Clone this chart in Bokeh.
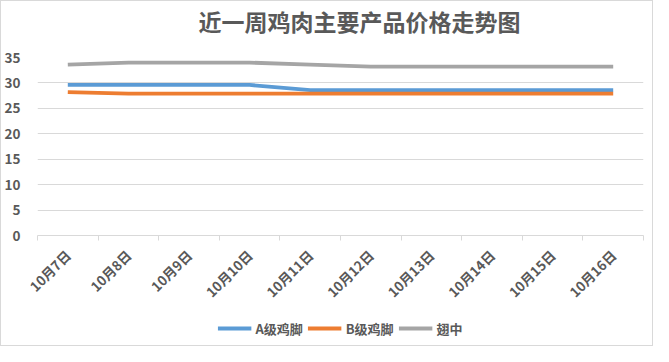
import numpy as np
from bokeh.plotting import figure
from bokeh.layouts import column
from bokeh.models import (Range1d, FixedTicker, Legend, LegendItem, Label,
                          CustomJSTickFormatter)
from bokeh.embed import file_html
from bokeh.resources import INLINE

title_text = "近一周鸡肉主要产品价格走势图"
dates = ["10月7日", "10月8日", "10月9日", "10月10日", "10月11日",
         "10月12日", "10月13日", "10月14日", "10月15日", "10月16日"]
a_claw = [29.6, 29.6, 29.6, 29.6, 28.6, 28.6, 28.6, 28.6, 28.6, 28.6]
b_claw = [28.2, 27.9, 27.9, 27.9, 27.9, 27.9, 27.9, 27.9, 27.9, 27.9]
wing_mid = [33.6, 34.0, 34.0, 34.0, 33.6, 33.2, 33.2, 33.2, 33.2, 33.2]
y_ticks = [0, 5, 10, 15, 20, 25, 30, 35]

series = [("A级鸡脚", a_claw, "#5B9BD5"),
          ("B级鸡脚", b_claw, "#ED7D31"),
          ("翅中", wing_mid, "#A5A5A5")]

n = len(dates)
xs = np.arange(n) + 0.5
TXT = "#595959"
FONT = "Noto Sans CJK SC"
W = 651

# title strip
tf = figure(width=W, height=46, output_backend="svg", toolbar_location=None,
            x_range=Range1d(0, 1), y_range=Range1d(0, 1), min_border=0,
            x_axis_location=None, y_axis_location=None)
tf.grid.visible = False
tf.outline_line_color = None
tf.add_layout(Label(x=322, y=27, x_units="screen", y_units="screen",
                    text=title_text, text_font=FONT, text_font_size="23px",
                    text_font_style="bold", text_color=TXT,
                    text_align="center", text_baseline="middle"))

p = figure(width=W, height=264, output_backend="svg", toolbar_location=None,
           x_range=Range1d(0, n), y_range=Range1d(0, 35),
           min_border_left=29, min_border_right=9, min_border_top=10,
           min_border_bottom=76)
p.outline_line_color = None
p.background_fill_color = "white"

for name, vals, col in series:
    p.line(xs, vals, line_color=col, line_width=3.8)

# x axis
xa = p.xaxis[0]
xa.ticker = FixedTicker(ticks=list(xs), minor_ticks=list(range(n + 1)))
labels_js = "const labs = %s; return labs[Math.floor(tick)];" % str(dates)
xa.formatter = CustomJSTickFormatter(code=labels_js)
xa.major_label_orientation = np.pi / 4
xa.major_label_text_font = FONT
xa.major_label_text_font_size = "13.5px"
xa.major_label_text_font_style = "bold"
xa.major_label_text_color = TXT
xa.major_tick_line_color = None
xa.minor_tick_line_color = "#d9d9d9"
xa.minor_tick_out = 5
xa.minor_tick_in = 0
xa.axis_line_color = "#d9d9d9"
xa.major_label_standoff = 11

ya = p.yaxis[0]
ya.ticker = FixedTicker(ticks=y_ticks)
ya.axis_line_color = None
ya.major_tick_line_color = None
ya.minor_tick_line_color = None
ya.major_label_text_font = FONT
ya.major_label_text_font_size = "13.5px"
ya.major_label_text_font_style = "bold"
ya.major_label_text_color = TXT
ya.major_label_standoff = 11

p.xgrid.visible = False
p.ygrid.ticker = FixedTicker(ticks=y_ticks)
p.ygrid.grid_line_color = "#d9d9d9"

# legend strip below the chart
lf = figure(width=W, height=34, output_backend="svg", toolbar_location=None,
            x_range=Range1d(100, 101), y_range=Range1d(100, 101),
            min_border=0, x_axis_location=None, y_axis_location=None)
lf.grid.visible = False
lf.outline_line_color = None
items = []
for name, vals, col in series:
    r = lf.line(xs, vals, line_color=col, line_width=3.8)
    items.append(LegendItem(label=name, renderers=[r]))
legend = Legend(items=items, orientation="horizontal", location="center",
                label_text_font=FONT, label_text_font_size="13px",
                label_text_color=TXT, label_text_font_style="bold",
                glyph_width=34, spacing=5, label_standoff=4,
                border_line_color=None, background_fill_alpha=0,
                margin=0, padding=2)
lf.add_layout(legend)

layout = column(tf, p, lf, spacing=0, styles={"border": "1px solid #d9d9d9"})

open("out.html", "w").write(file_html(layout, INLINE))
